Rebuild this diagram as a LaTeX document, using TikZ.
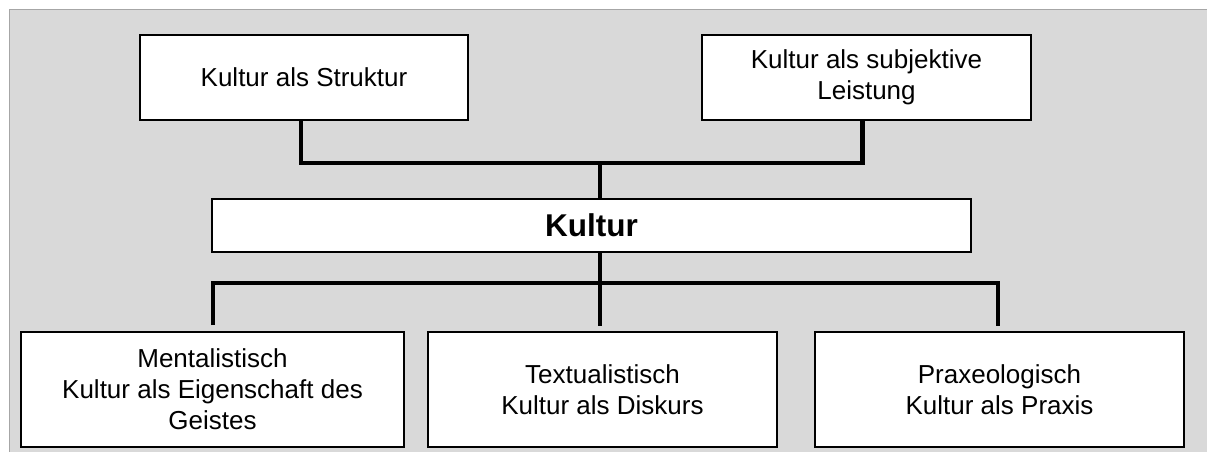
\documentclass[tikz,border=0pt]{standalone}
\usepackage{fontspec}
\setmainfont{Liberation Sans}
\definecolor{panelfill}{HTML}{D9D9D9}
\definecolor{panelrule}{HTML}{A6A6A6}
\begin{document}
\begin{tikzpicture}[x=1pt,y=-1pt,
  box/.style={draw=black, fill=white, line width=2pt, rectangle, inner sep=0pt,
    align=center, font=\fontsize{26}{31}\selectfont},
  link/.style={draw=black, line width=4pt},
]
% page and grey panel
\clip (0,0) rectangle (1207,452);
\path[fill=white] (0,0) rectangle (1207,452);
\draw[draw=panelrule, fill=panelfill, line width=1.5pt] (9.5,9.5) rectangle (1230,480);

% upper row
\node[box, minimum width=328pt, minimum height=85pt] (struk) at (304,77.5) {Kultur als Struktur};
\node[box, minimum width=329pt, minimum height=85pt] (leist) at (866.5,77.5) {Kultur als subjektive\\Leistung};

% central node
\node[box, minimum width=759pt, minimum height=53pt,
  font=\fontsize{31.5}{36}\selectfont\bfseries] (kult) at (591.5,225.5) {Kultur};

% lower row
\node[box, minimum width=383pt, minimum height=115pt] (ment) at (212.5,389.5)
  {Mentalistisch\\Kultur als Eigenschaft des\\Geistes};
\node[box, minimum width=349pt, minimum height=115pt] (text) at (602.5,389.5)
  {Textualistisch\\Kultur als Diskurs};
\node[box, minimum width=369pt, minimum height=115pt] (prax) at (999.5,389.5)
  {Praxeologisch\\Kultur als Praxis};

% junction points
\coordinate (upbar) at (600,163);
\coordinate (lowbar) at (600,283);
\coordinate (mtip) at ([yshift=6pt]ment.north);
\coordinate (ttip) at ([yshift=5pt]text.north);
\coordinate (ptip) at ([xshift=-1.5pt,yshift=5pt]prax.north);

% connectors above
\draw[link, line width=4.5pt] ([xshift=-3pt]struk.south) |- (upbar) -| ([xshift=-4pt]leist.south);
\draw[link, line width=3.5pt] (upbar) -- (upbar |- kult.north);

% connectors below
\draw[link, line width=3.5pt] (lowbar |- kult.south) -- (lowbar);
\draw[link] (mtip) |- (lowbar) -| (ptip);
\draw[link, line width=3.5pt] (lowbar) -- (lowbar |- ttip);
\end{tikzpicture}
\end{document}
